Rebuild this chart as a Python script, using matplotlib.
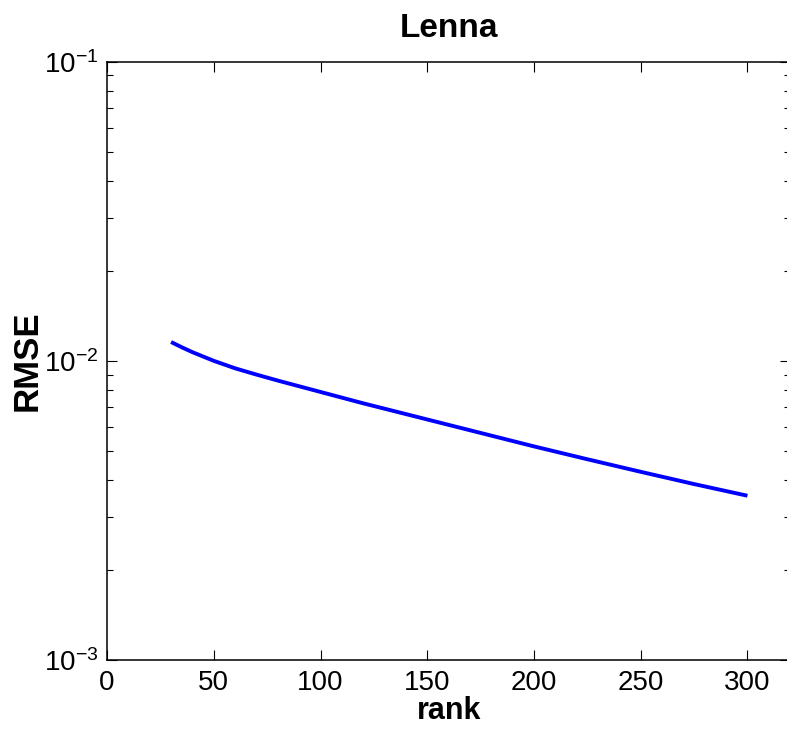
import numpy as np
import matplotlib
matplotlib.use("Agg")
import matplotlib.pyplot as plt
from matplotlib.ticker import LogLocator, NullFormatter

plt.rcParams['font.family'] = ['Liberation Sans', 'DejaVu Sans']
plt.rcParams['mathtext.fontset'] = 'custom'
plt.rcParams['mathtext.rm'] = 'Liberation Sans'
plt.rcParams['mathtext.it'] = 'Liberation Sans:italic'
plt.rcParams['mathtext.bf'] = 'Liberation Sans:bold'

# values
rank = [30, 35, 40, 50, 60, 70, 80, 90, 100, 120, 140, 160, 180,
        200, 225, 250, 275, 300]
rmse = [0.011561, 0.011101, 0.010690, 0.010000, 0.009441, 0.008995,
        0.008590, 0.008222, 0.007870, 0.007211, 0.006637, 0.006109,
        0.005623, 0.005176, 0.004688, 0.004256, 0.003873, 0.003540]
xticks = [0, 50, 100, 150, 200, 250, 300]

fig = plt.figure(figsize=(7.87, 7.32), dpi=100)
ax = fig.add_axes([0.136, 0.0984, 0.868, 0.8173])

ax.semilogy(rank, rmse, color=(0, 0, 1), linewidth=2.8,
            solid_capstyle='butt', solid_joinstyle='round')

ax.set_xlim(0, 320)
ax.set_ylim(1e-3, 1e-1)
ax.set_xticks(xticks)
ax.yaxis.set_major_locator(LogLocator(base=10, numticks=5))
ax.yaxis.set_minor_locator(LogLocator(base=10, subs=np.arange(2, 10), numticks=20))
ax.yaxis.set_minor_formatter(NullFormatter())

ax.tick_params(which='both', direction='in', top=True, right=True,
               labelsize=20, width=0.8)
ax.tick_params(which='major', length=7)
ax.tick_params(which='minor', length=4)
ax.tick_params(axis='x', pad=7)
ax.tick_params(axis='y', pad=6)
for s in ax.spines.values():
    s.set_linewidth(1.1)

ax.set_title('Lenna', fontsize=24, fontweight='bold', pad=18)
ax.set_xlabel('rank', fontsize=22, fontweight='bold', labelpad=0)
ax.set_ylabel('RMSE', fontsize=25, fontweight='bold', labelpad=0.5)

fig.savefig('out.png', dpi=100)
